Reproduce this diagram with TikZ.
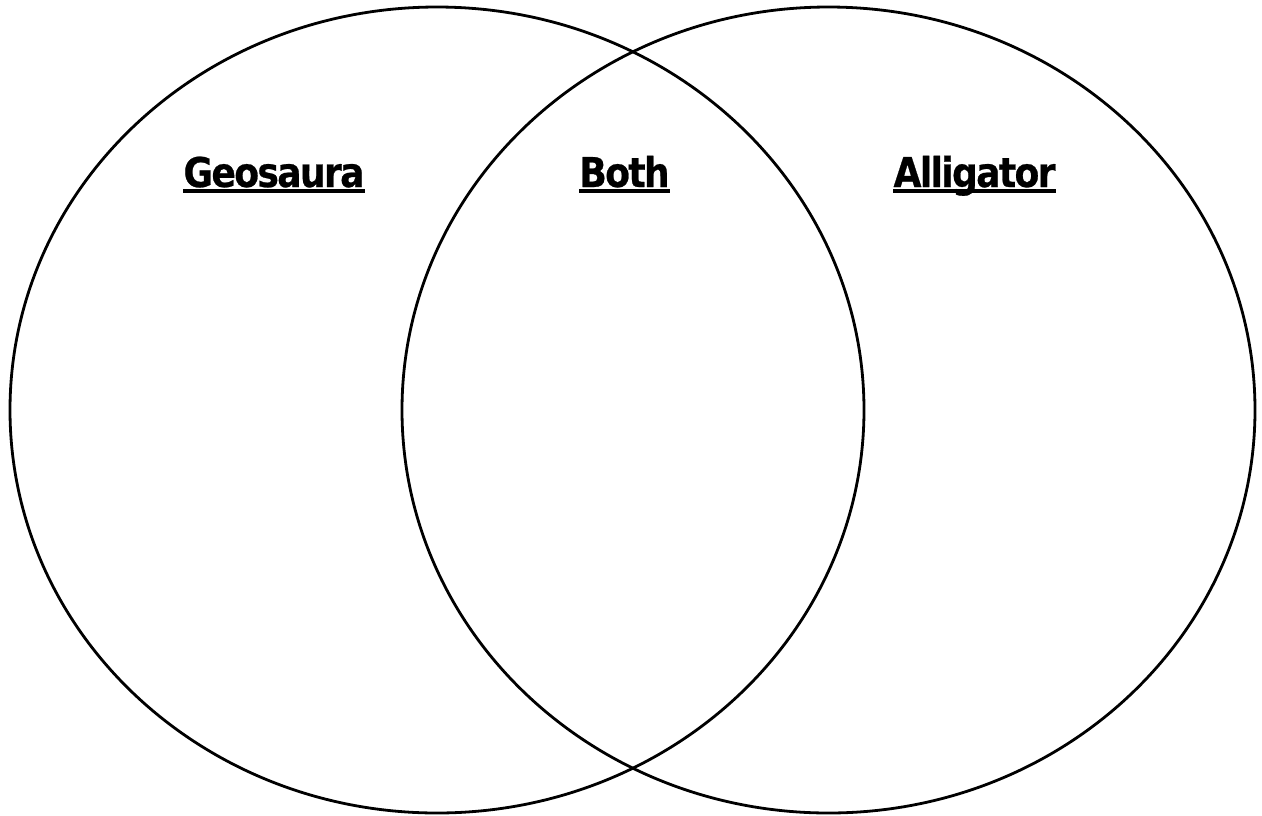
\documentclass[tikz,border=0pt]{standalone}
\usepackage{fontspec}
\usepackage{tikz}
\newfontfamily\vennfont[FakeStretch=0.88,LetterSpace=-4,FakeBold=0.6]{DejaVu Sans Bold}

\tikzset{
  title/.style={font=\vennfont\fontsize{41}{41}\selectfont, inner sep=0pt, anchor=base},
  bar/.style={line width=3.6pt}
}

\begin{document}
\begin{tikzpicture}[x=1pt, y=-1pt]
    \useasboundingbox (0,0) rectangle (1262,815);
    \draw[line width=2.8pt] (437,410) ellipse [x radius=427, y radius=403];
    \draw[line width=2.8pt] (828.5,410) ellipse [x radius=426.5, y radius=403];
    \node[title] (geo) at (274,187) {Geosaura};
    \node[title] (both) at (624.5,187) {Both};
    \node[title] (alli) at (974.5,187) {Alligator};
    \draw[bar] ([yshift=-4pt]geo.base west) -- ([yshift=-4pt]geo.base east);
    \draw[bar] ([yshift=-4pt]both.base west) -- ([yshift=-4pt]both.base east);
    \draw[bar] ([yshift=-4pt]alli.base west) -- ([yshift=-4pt]alli.base east);
\end{tikzpicture}
\end{document}
